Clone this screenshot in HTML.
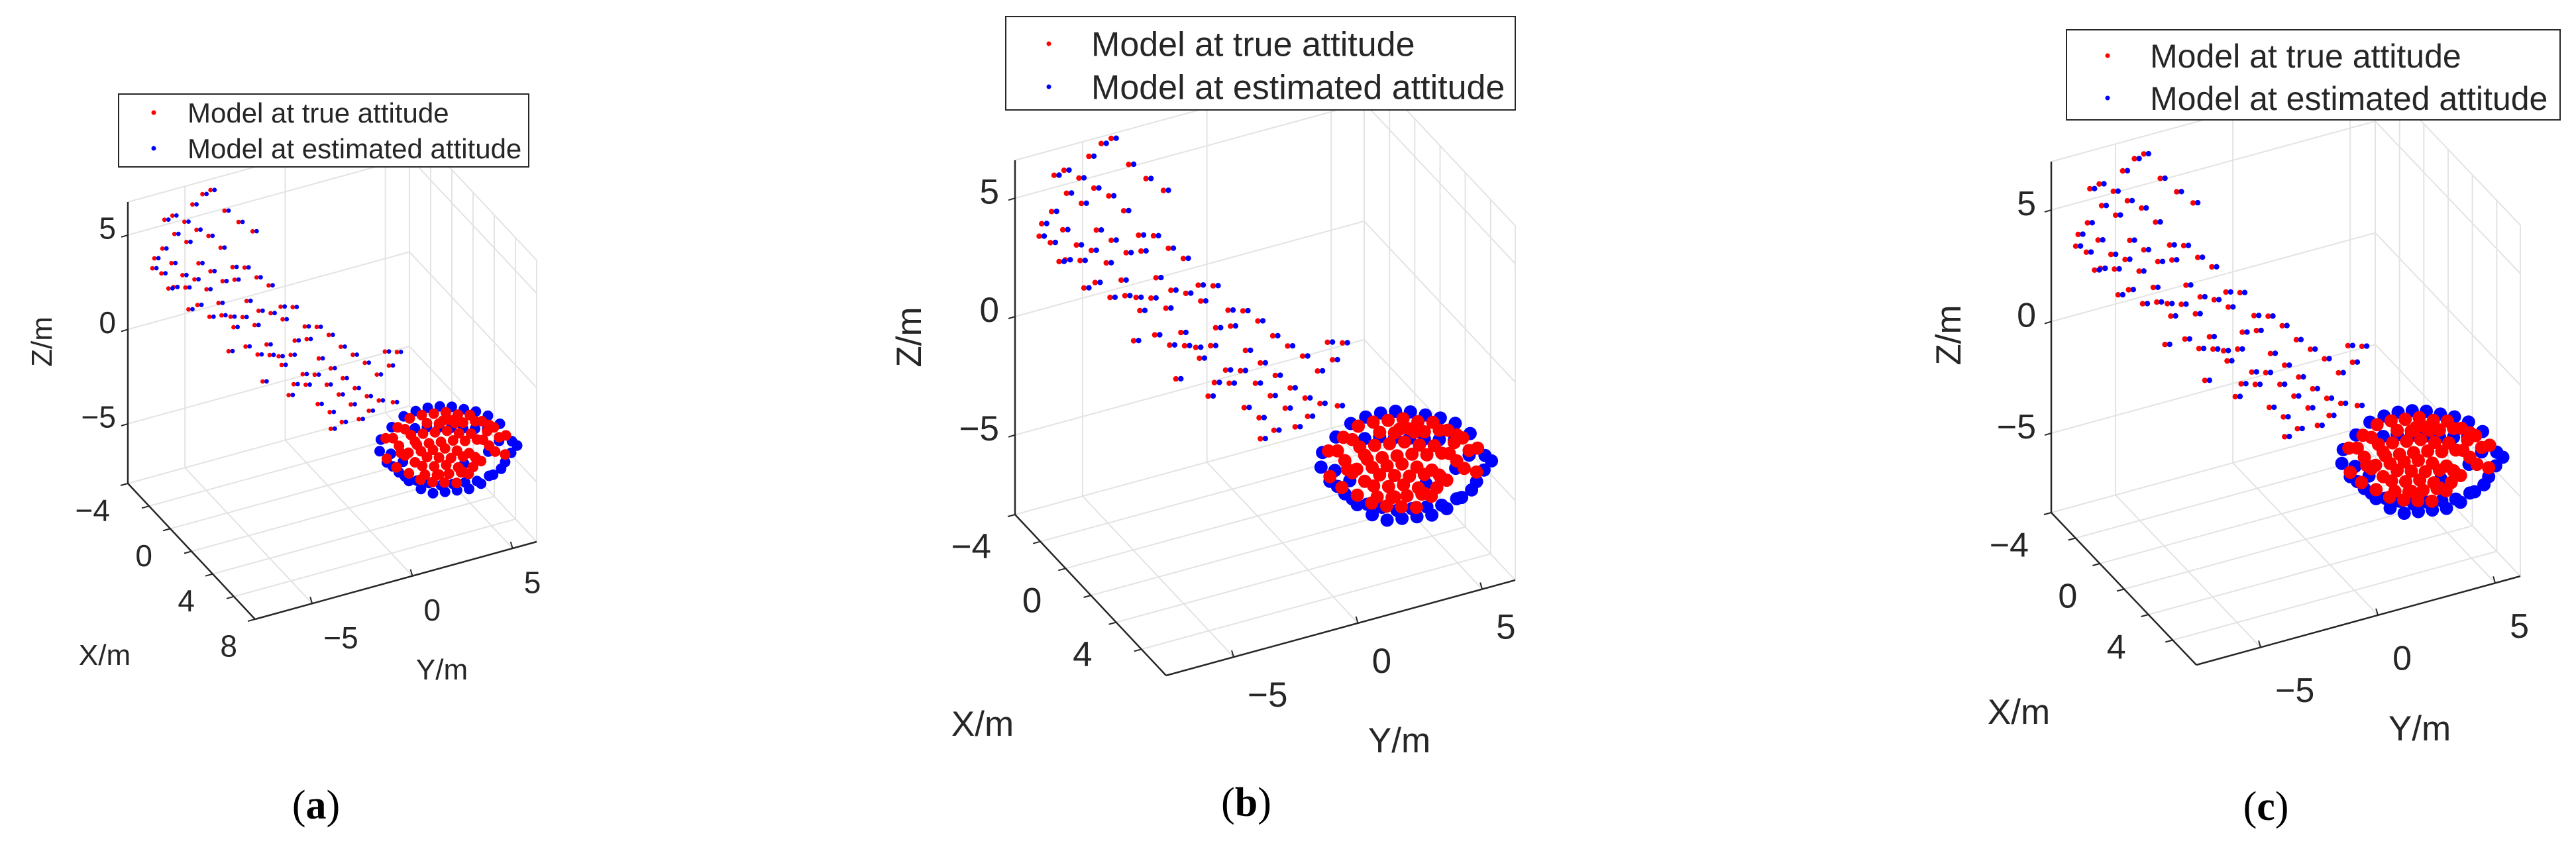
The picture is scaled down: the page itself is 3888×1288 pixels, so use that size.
<!DOCTYPE html>
<html><head><meta charset="utf-8"><title>Model at true vs estimated attitude</title>
<style>
html,body{margin:0;padding:0;background:#fff;}
svg{display:block;}
text{font-family:"Liberation Sans",Arial,sans-serif;fill:#262626;}
.cap{font-family:"Liberation Serif","Times New Roman",serif;fill:#000;}
</style></head>
<body>
<svg id="fig" width="3888" height="1288" viewBox="0 0 3888 1288" xmlns="http://www.w3.org/2000/svg"></svg>
<script>
// ---------- data (shared point model, metres) ----------
const trailTrueY = [-9.8,-9.7,-9.3,-9.2,-9.35,-8.8,-8.7,-8.85,-8.75,-8.2,-8.1,-8.3,-8.15,-7.6,-7.5,-7.7,-7.55,-7.0,-6.9,-7.1,-6.95,-6.4,-6.3,-6.5,-6.35,-5.8,-5.7,-5.9,-5.75,-5.2,-5.1,-5.3,-5.15,-4.6,-4.5,-4.7,-4.55,-4.0,-3.9,-4.1,-3.95,-3.4,-3.3,-3.5,-3.35,-2.8,-2.7,-2.9,-2.75,-2.2,-2.1,-2.3,-2.15,-1.6,-1.5,-1.7,-1.55,-1.0,-0.9,-1.1,-0.95,-0.4,-0.3,-0.5,-0.35,0.2,0.3,0.1,0.8,0.9,1.4,1.5,2.0,2.2,-7.3,-6.9,-7.8,-6.2,-5.5,-4.8,-0.9,0.5,1.0,2.4,1.8,-3.0,-4.3,-6.0,-8.0,-9.0];
const trailTrueZ = [7.4,7.9,8.3,9.8,7.0,9.9,8.9,7.4,6.1,9.4,8.3,6.6,5.9,8.8,7.0,6.2,4.8,8.3,6.4,5.5,4.0,7.5,5.7,4.6,3.9,6.3,5.6,3.7,3.1,6.1,4.3,3.5,1.9,5.4,3.6,2.9,1.3,4.8,3.3,1.7,1.1,3.5,2.8,0.9,0.4,3.3,1.5,0.8,-0.8,2.1,1.4,-0.4,-1.0,1.9,0.2,-0.6,-2.2,1.3,-0.5,-1.3,-2.8,0.5,-1.2,-2.0,-3.5,-0.1,-1.9,-2.7,-0.7,-2.5,-1.5,-2.9,-1.2,-3.2,10.6,10.7,10.2,9.4,8.6,7.9,-3.7,-3.6,-3.3,-0.6,-0.4,-1.3,-0.2,1.9,4.7,6.1];
const trailEstY = [-9.6,-9.5,-9.1,-9.0,-9.15,-8.6,-8.5,-8.65,-8.55,-8.0,-7.9,-8.1,-7.95,-7.4,-7.3,-7.5,-7.35,-6.8,-6.7,-6.9,-6.75,-6.2,-6.1,-6.3,-6.15,-5.6,-5.5,-5.7,-5.55,-5.0,-4.9,-5.1,-4.95,-4.4,-4.3,-4.5,-4.35,-3.8,-3.7,-3.9,-3.75,-3.2,-3.1,-3.3,-3.15,-2.6,-2.5,-2.7,-2.55,-2.0,-1.9,-2.1,-1.95,-1.4,-1.3,-1.5,-1.35,-0.8,-0.7,-0.9,-0.75,-0.2,-0.1,-0.3,-0.15,0.4,0.5,0.3,1.0,1.1,1.6,1.7,2.2,2.4,-7.1,-6.7,-7.6,-6.0,-5.3,-4.6,-0.7,0.7,1.2,2.6,2.0,-2.8,-4.1,-5.8,-7.8,-8.8];
const trailEstZ = [7.35,7.85,8.25,9.75,6.95,9.85,8.85,7.35,6.05,9.35,8.25,6.55,5.85,8.75,6.95,6.15,4.75,8.25,6.35,5.45,3.95,7.45,5.65,4.55,3.85,6.25,5.55,3.65,3.05,6.05,4.25,3.45,1.85,5.35,3.55,2.85,1.25,4.75,3.25,1.65,1.05,3.45,2.75,0.85,0.35,3.25,1.45,0.75,-0.85,2.05,1.35,-0.45,-1.05,1.85,0.15,-0.65,-2.25,1.25,-0.55,-1.35,-2.85,0.45,-1.25,-2.05,-3.55,-0.15,-1.95,-2.75,-0.75,-2.55,-1.55,-2.95,-1.25,-3.25,10.55,10.65,10.15,9.35,8.55,7.85,-3.75,-3.65,-3.35,-0.65,-0.45,-1.35,-0.25,1.85,4.65,6.05];
const clusterTrueY = [1.84,1.9,2.44,2.5,2.38,3.04,3.1,2.98,3.0,3.64,3.7,3.6,3.66,3.58,4.24,4.3,4.2,4.26,4.18,4.84,4.9,4.8,4.86,4.78,5.44,5.5,5.4,5.46,5.38,6.04,6.1,6.0,5.98,6.64,6.7,6.6,7.24,7.3,7.84,7.8,2.2,2.8,3.3,3.9,4.5,5.1,5.7,6.3,6.9,7.5,3.3,3.9,4.5,5.1,5.7,6.3,2.8,4.5,5.7,7.0,3.4,4.0,4.6,5.2,5.8,6.4,3.8,4.4,5.0,5.6,6.2,4.7,5.3,2.6,7.0];
const clusterTrueZ = [-5.0,-6.1,-4.6,-5.6,-6.7,-4.3,-5.2,-6.1,-7.2,-4.3,-5.3,-6.2,-7.0,-7.7,-4.4,-5.4,-6.3,-7.2,-8.0,-4.5,-5.5,-6.4,-7.3,-8.2,-4.8,-5.8,-6.7,-7.6,-8.4,-5.0,-6.0,-7.0,-8.1,-5.5,-6.5,-7.6,-6.0,-7.3,-6.6,-7.6,-5.1,-4.8,-5.6,-4.8,-5.0,-5.0,-5.3,-5.4,-6.1,-6.6,-6.7,-6.6,-6.8,-7.0,-7.1,-7.3,-6.2,-7.7,-7.9,-6.9,-5.8,-5.9,-6.0,-6.1,-6.3,-6.4,-7.5,-7.7,-7.8,-7.9,-7.8,-4.9,-5.2,-6.0,-5.8];
const clusterEstY = [1.54,1.6,2.14,2.2,2.1,2.74,2.8,2.7,3.34,3.4,3.3,3.94,4.0,3.9,4.54,4.6,4.5,5.14,5.2,5.1,5.74,5.8,5.7,5.76,6.34,6.4,6.3,6.36,6.94,7.0,6.9,6.96,7.54,7.6,7.5,8.14,8.1,2.5,3.0,3.6,4.2,4.8,5.4,6.0,6.6,7.2,7.8,1.9,8.4];
const clusterEstZ = [-5.6,-5.0,-4.5,-6.6,-5.9,-4.1,-7.3,-6.5,-4.0,-7.7,-4.9,-4.0,-8.0,-5.0,-4.1,-8.3,-5.2,-4.3,-8.4,-5.4,-4.6,-8.5,-5.6,-7.5,-4.9,-8.6,-5.8,-7.4,-5.3,-8.5,-6.0,-7.2,-5.9,-8.3,-6.8,-7.0,-7.6,-7.0,-7.6,-8.2,-8.6,-8.7,-8.8,-8.9,-8.8,-8.5,-8.0,-6.3,-7.3];
const pointX = 2; // model depth coordinate (m)
const xTicks = [-4,-2,0,2,4,6,8];
const yTicks = [-5,0,5];
const zTicks = [-5,0,5];
const legendLabels = ["Model at true attitude","Model at estimated attitude"];
const captions = ["a","b","c"];

// ---------- panel geometry (layout, not data) ----------
const panels = [
 {id:"a", O:[193,730], X:[192,205], Y:[425,-117], Z:425, xr:[-4,8], yr:[-7.85,6.2], zr:[-8.16,6.75],
  xLab:[-4,0,4,8], fs:46, tfs:44, xOff:[-27,40], yOff:[17,51], zOff:18,
  zt:[62,516], xt:[158,988], yt:[667,1010],
  leg:{x0:179,x1:798,y0:142,y1:252,l1:170,l2:224,mx:232,tx:283,fs:42},
  cap:[477,1236], rT:3.4, rC:8},
 {id:"b", O:[1532,777], X:[228,243], Y:[527,-144], Z:535, xr:[-4,7.95], yr:[-7.72,6.33], zr:[-8.36,6.6],
  xLab:[-4,0,4], fs:53, tfs:53, xOff:[-36,47], yOff:[21,56], zOff:24,
  zt:[1371,509], xt:[1483,1092], yt:[2112,1117],
  leg:{x0:1518,x1:2287,y0:25,y1:166,l1:66,l2:131,mx:1583,tx:1647,fs:52},
  cap:[1881,1232], rT:4.2, rC:10},
 {id:"c", O:[3096,774], X:[219,230], Y:[489,-134], Z:530, xr:[-4,7.95], yr:[-7.74,6.07], zr:[-8.56,7.17],
  xLab:[-4,0,4], fs:52, tfs:53, xOff:[-34,48], yOff:[22,64], zOff:23,
  zt:[2940,506], xt:[3047,1074], yt:[3652,1099],
  leg:{x0:3119,x1:3864,y0:45,y1:181,l1:84,l2:148,mx:3181,tx:3245,fs:50},
  cap:[3420,1238], rT:4.2, rC:10}
];

const NS="http://www.w3.org/2000/svg";
const svg=document.getElementById("fig");
function mk(tag,attrs,parent){const e=document.createElementNS(NS,tag);for(const k in attrs)e.setAttribute(k,attrs[k]);(parent||svg).appendChild(e);return e;}
function projector(p){
  return function(x,y,z){
    const tx=(x-p.xr[0])/(p.xr[1]-p.xr[0]);
    const ty=(y-p.yr[0])/(p.yr[1]-p.yr[0]);
    const tz=(z-p.zr[0])/(p.zr[1]-p.zr[0]);
    return [p.O[0]+tx*p.X[0]+ty*p.Y[0], p.O[1]+tx*p.X[1]+ty*p.Y[1]-tz*p.Z];
  };
}
function line(g,a,b,stroke,w,name){
  const l=mk("line",{x1:a[0].toFixed(1),y1:a[1].toFixed(1),x2:b[0].toFixed(1),y2:b[1].toFixed(1),stroke:stroke,"stroke-width":w},g);
  
  
  return l;
}
function txt(g,x,y,s,fs,anchor,name,extra){
  const t=mk("text",Object.assign({x:x,y:y,"font-size":fs,"text-anchor":anchor},extra||{}),g);
  t.textContent=s;
  
  
  return t;
}
function fmt(v){return v<0?"\u2212"+Math.abs(v):String(v);}

panels.forEach(p=>{
  const P=projector(p);
  const g=mk("g",{});
  
  
  const [x0,x1]=p.xr,[y0,y1]=p.yr,[z0,z1]=p.zr;
  const grid=mk("g",{},g);
  
  
  const gc="#e3e3e3", gw=2;
  xTicks.filter(v=>v>=x0&&v<=x1).forEach(v=>{
    line(grid,P(v,y0,z0),P(v,y1,z0),gc,gw,'floor-gridline-x');
    line(grid,P(v,y1,z0),P(v,y1,z1),gc,gw,'wall-gridline-x');
  });
  yTicks.forEach(v=>{
    line(grid,P(x0,v,z0),P(x1,v,z0),gc,gw,'floor-gridline-y');
    line(grid,P(x0,v,z0),P(x0,v,z1),gc,gw,'wall-gridline-y');
  });
  zTicks.forEach(v=>{
    line(grid,P(x0,y0,v),P(x0,y1,v),gc,gw,'back-gridline-z');
    line(grid,P(x0,y1,v),P(x1,y1,v),gc,gw,'side-gridline-z');
  });
  line(grid,P(x0,y1,z0),P(x0,y1,z1),gc,gw,'back-edge');
  line(grid,P(x1,y1,z0),P(x1,y1,z1),gc,gw,'side-edge');
  line(grid,P(x0,y1,z0),P(x1,y1,z0),gc,gw,'floor-edge');
  line(grid,P(x0,y0,z1),P(x0,y1,z1),gc,gw,'top-edge');
  line(grid,P(x0,y1,z1),P(x1,y1,z1),gc,gw,'top-side-edge');

  // axes
  const ac="#262626", aw=2.5;
  line(g,P(x0,y0,z0),P(x0,y0,z1),ac,aw,'z-axis-line');
  line(g,P(x0,y0,z0),P(x1,y0,z0),ac,aw,'x-axis-line');
  line(g,P(x1,y0,z0),P(x1,y1,z0),ac,aw,'y-axis-line');
  zTicks.forEach(v=>{const a=P(x0,y0,v);line(g,a,[a[0]-10,a[1]+3],ac,2,'z-tick');
    txt(g,a[0]-p.zOff,a[1]-11+p.fs*0.36,fmt(v),p.fs,"end",'z-tick-label');});
  xTicks.filter(v=>v>=x0&&v<=x1).forEach(v=>{const a=P(v,y0,z0);line(g,a,[a[0]-11,a[1]+3],ac,2,'x-tick');});
  p.xLab.forEach(v=>{const a=P(v,y0,z0);txt(g,a[0]+p.xOff[0],a[1]+p.xOff[1]+p.fs*0.36,fmt(v),p.fs,"end",'x-tick-label');});
  yTicks.forEach(v=>{const a=P(x1,v,z0);line(g,a,[a[0]-3,a[1]-10],ac,2,'y-tick');
    txt(g,a[0]+p.yOff[0],a[1]+p.yOff[1]+p.fs*0.36,fmt(v),p.fs,"start",'y-tick-label');});
  txt(g,p.zt[0],p.zt[1],"Z/m",p.tfs,"middle",'z-axis-title',{transform:`rotate(-90 ${p.zt[0]} ${p.zt[1]})`,dy:(p.tfs*0.36).toFixed(1)});
  txt(g,p.xt[0],p.xt[1]+p.tfs*0.36,"X/m",p.tfs,"middle",'x-axis-title');
  txt(g,p.yt[0],p.yt[1]+p.tfs*0.36,"Y/m",p.tfs,"middle",'y-axis-title');

  // series
  const sg=mk("g",{},g);
  
  
  function dots(Ys,Zs,r,col,name){
    Ys.forEach((y,i)=>{const q=P(pointX,y,Zs[i]);
      const c=mk("circle",{cx:q[0].toFixed(1),cy:q[1].toFixed(1),r:r,fill:col},sg);
      
      });
  }
  dots(clusterEstY,clusterEstZ,p.rC,"#0000ff",'estimated-point');
  dots(clusterTrueY,clusterTrueZ,p.rC,"#ff0000",'true-point');
  dots(trailTrueY,trailTrueZ,p.rT,"#ff0000",'true-point');
  dots(trailEstY,trailEstZ,p.rT,"#0000ff",'estimated-point');

  // legend
  const L=p.leg;
  const lg=mk("g",{},g);
  
  
  const box=mk("rect",{x:L.x0,y:L.y0,width:L.x1-L.x0,height:L.y1-L.y0,fill:"#fff",stroke:"#262626","stroke-width":2},lg);
  
  
  [[L.l1,"#ff0000"],[L.l2,"#0000ff"]].forEach((e,i)=>{
    const m=mk("circle",{cx:L.mx,cy:e[0],r:3.5,fill:e[1]},lg);
    
    
    txt(lg,L.tx,e[0]+L.fs*0.36,legendLabels[i],L.fs,"start",'legend-entry',{fill:"#000"});
  });

  // caption
  const cp=mk("text",{x:p.cap[0],y:p.cap[1],"font-size":62,"text-anchor":"middle",class:"cap"},g);
  
  
  cp.appendChild(document.createTextNode("("));
  const b=mk("tspan",{"font-weight":"bold"},cp);b.textContent=captions[panels.indexOf(p)];
  cp.appendChild(document.createTextNode(")"));
});
</script>
</body></html>
